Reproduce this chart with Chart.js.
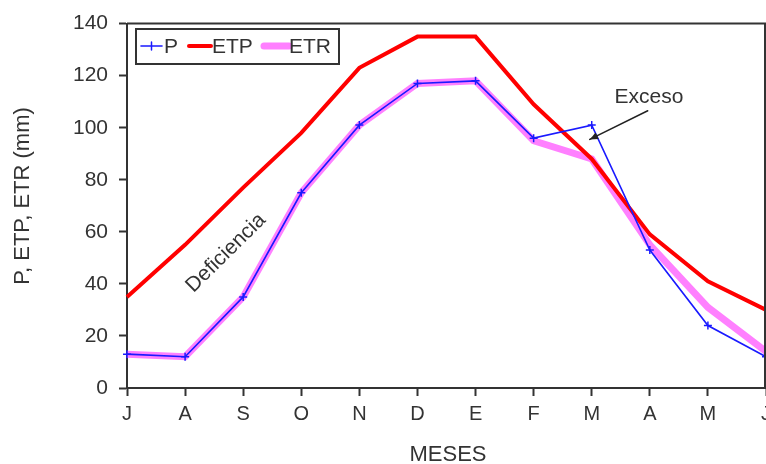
<!DOCTYPE html>
<html lang="es">
  <head>
    <meta charset="UTF-8" />
    <title>Balance hídrico</title>
    <script src="https://cdn.jsdelivr.net/npm/chart.js"></script>
    <style>
      html, body { margin: 0; padding: 0; background: #fff; overflow: hidden; }
      #wrap { width: 790px; height: 464px; }
    </style>
  </head>
  <body>
    <div id="wrap"><canvas id="balance" width="790" height="464"></canvas></div>

    <script>
      // datos (mm)
      const meses = ["J", "A", "S", "O", "N", "D", "E", "F", "M", "A", "M", "J"];
      const P   = [13, 12, 35, 75, 101, 117, 118, 96, 101, 53, 24, 12];
      const ETP = [35, 55, 77, 98, 123, 135, 135, 109, 88, 59, 41, 30];
      const ETR = [13, 12, 35, 75, 101, 117, 118, 95, 88, 55, 31, 14];
      const yTicks = [0, 20, 40, 60, 80, 100, 120, 140];

      const gris = "#333333";
      const fuente = "Liberation Sans, Arial, sans-serif";

      // leyenda dentro del área, marco, títulos y anotaciones
      const extras = {
        id: "extras",
        afterDraw(chart) {
          const ctx = chart.ctx;
          const a = chart.chartArea;
          const x = chart.scales.x, y = chart.scales.y;
          ctx.save();

          // marco superior y derecho
          ctx.strokeStyle = gris;
          ctx.lineWidth = 2;
          ctx.beginPath();
          ctx.moveTo(a.left, a.top);
          ctx.lineTo(a.right - 1, a.top);
          ctx.lineTo(a.right - 1, a.bottom);
          ctx.stroke();

          // leyenda
          ctx.lineWidth = 2;
          ctx.strokeRect(136, 29, 203, 35);
          ctx.font = "21px " + fuente;
          ctx.fillStyle = gris;
          ctx.textBaseline = "middle";
          const items = [
            { ds: 0, x0: 141, x1: 162, tx: 164 },
            { ds: 1, x0: 189, x1: 211, tx: 212 },
            { ds: 2, x0: 264, x1: 289, tx: 289 },
          ];
          items.forEach((it) => {
            const d = chart.data.datasets[it.ds];
            ctx.strokeStyle = d.borderColor;
            ctx.lineWidth = d.borderWidth;
            ctx.lineCap = "round";
            ctx.beginPath();
            ctx.moveTo(it.x0, 46);
            ctx.lineTo(it.x1, 46);
            ctx.stroke();
            if (d.pointStyle === "cross") {
              const cx = (it.x0 + it.x1) / 2;
              ctx.lineWidth = 1.5;
              ctx.beginPath();
              ctx.moveTo(cx, 42); ctx.lineTo(cx, 50);
              ctx.stroke();
            }
            ctx.fillStyle = gris;
            ctx.fillText(d.label, it.tx, 47);
          });

          // títulos de ejes
          ctx.font = "22px " + fuente;
          ctx.textAlign = "center";
          ctx.fillText("MESES", 448, 455);
          ctx.save();
          ctx.translate(23, 196);
          ctx.rotate(-Math.PI / 2);
          ctx.fillText("P, ETP, ETR (mm)", 0, 0);
          ctx.restore();

          // Exceso
          ctx.font = "21px " + fuente;
          ctx.fillText("Exceso", 649, 97);
          const x0 = x.getPixelForValue(8) + 56, y0 = y.getPixelForValue(106.5);
          const x1 = x.getPixelForValue(8) - 2, y1 = y.getPixelForValue(95.5);
          ctx.strokeStyle = "#222";
          ctx.fillStyle = "#222";
          ctx.lineWidth = 1.5;
          ctx.beginPath();
          ctx.moveTo(x0, y0);
          ctx.lineTo(x1, y1);
          ctx.stroke();
          const ang = Math.atan2(y1 - y0, x1 - x0);
          ctx.beginPath();
          ctx.moveTo(x1, y1);
          ctx.lineTo(x1 - 9 * Math.cos(ang - 0.4), y1 - 9 * Math.sin(ang - 0.4));
          ctx.lineTo(x1 - 9 * Math.cos(ang + 0.4), y1 - 9 * Math.sin(ang + 0.4));
          ctx.closePath();
          ctx.fill();

          // Deficiencia
          ctx.fillStyle = gris;
          ctx.save();
          ctx.translate(226, 253);
          ctx.rotate(-0.78);
          ctx.fillText("Deficiencia", 0, 0);
          ctx.restore();

          ctx.restore();
        },
      };

      const ctx = document.getElementById("balance").getContext("2d");
      new Chart(ctx, {
        type: "line",
        data: {
          labels: meses,
          datasets: [
            {
              label: "P",
              data: P,
              borderColor: "#1a1aff",
              backgroundColor: "#1a1aff",
              borderWidth: 1.6,
              pointStyle: "cross",
              pointRadius: 4,
              pointBorderWidth: 1.5,
              tension: 0,
              order: 0,
            },
            {
              label: "ETP",
              data: ETP,
              borderColor: "#ff0000",
              backgroundColor: "#ff0000",
              borderWidth: 4,
              pointRadius: 0,
              tension: 0,
              order: 1,
            },
            {
              label: "ETR",
              data: ETR,
              borderColor: "#ff80ff",
              backgroundColor: "#ff80ff",
              borderWidth: 7,
              pointRadius: 0,
              tension: 0,
              order: 2,
            },
          ],
        },
        options: {
          responsive: false,
          animation: false,
          layout: { padding: { left: 0, top: 22, right: 24, bottom: 0 } },
          plugins: {
            legend: { display: false },
            tooltip: { enabled: false },
          },
          scales: {
            x: {
              offset: false,
              grid: {
                offset: false,
                drawOnChartArea: false,
                tickLength: 8,
                tickColor: gris,
                tickWidth: 2,
              },
              border: { color: gris, width: 2 },
              ticks: {
                color: gris,
                font: { family: fuente, size: 20 },
                padding: 6,
                maxRotation: 0,
                autoSkip: false,
              },
              afterFit(s) { s.height = 76; },
            },
            y: {
              min: 0,
              max: 140,
              afterBuildTicks(s) { s.ticks = yTicks.map((v) => ({ value: v })); },
              grid: {
                drawOnChartArea: false,
                tickLength: 8,
                tickColor: gris,
                tickWidth: 2,
              },
              border: { color: gris, width: 2 },
              ticks: {
                color: gris,
                font: { family: fuente, size: 21 },
                padding: 11,
              },
              afterFit(s) { s.width = 127; },
            },
          },
        },
        plugins: [extras],
      });
    </script>
  </body>
</html>
